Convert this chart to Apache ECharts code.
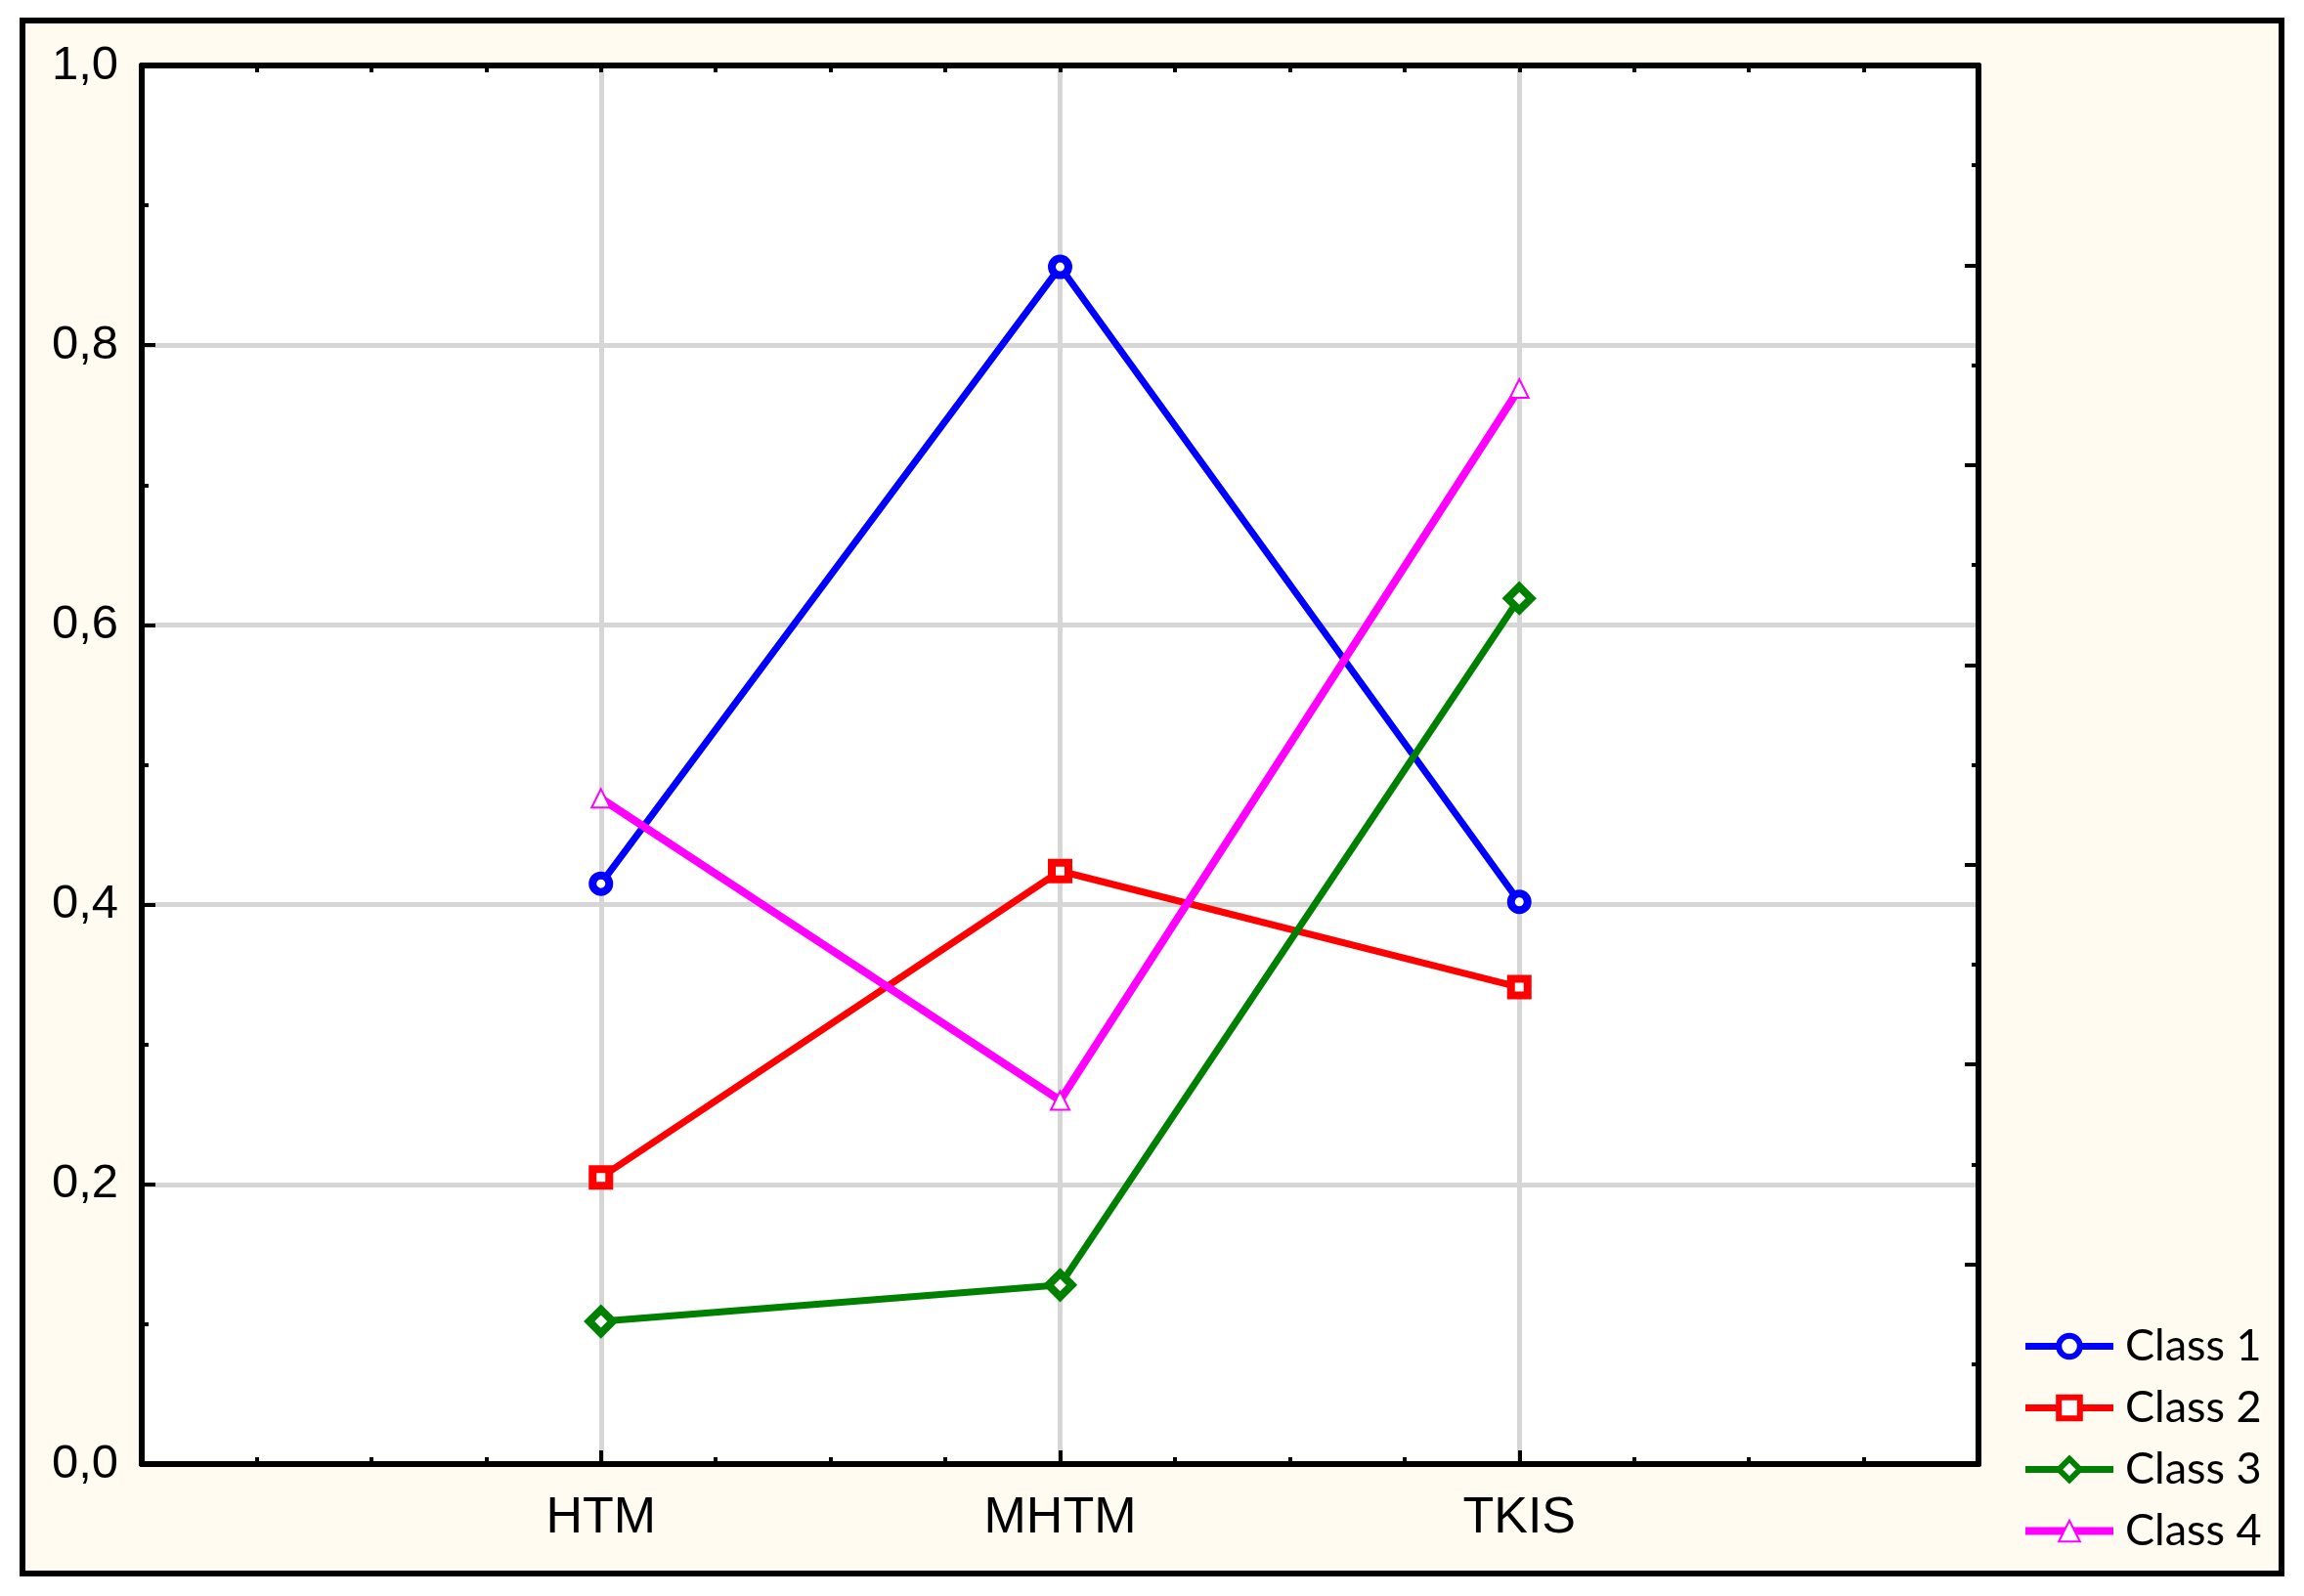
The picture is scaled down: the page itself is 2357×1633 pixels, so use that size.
<!DOCTYPE html>
<html>
<head>
<meta charset="utf-8">
<script src="https://cdn.jsdelivr.net/npm/echarts@6/dist/echarts.min.js"></script>
<style>html,body{margin:0;padding:0;background:#fff;}#c{width:2357px;height:1633px;}</style>
</head>
<body>
<div id="c"></div>
<script>
const categories = ['HTM', 'MHTM', 'TKIS'];
const seriesNames = ['Class 1', 'Class 2', 'Class 3', 'Class 4'];
const class1 = [0.415, 0.856, 0.402];
const class2 = [0.205, 0.424, 0.341];
const class3 = [0.102, 0.128, 0.619];
const class4 = [0.476, 0.260, 0.769];
const yTicks = [0, 0.2, 0.4, 0.6, 0.8, 1.0];

const colors = ['#0000ff', '#ff0000', '#008000', '#ff00ff'];
const symbols = ['circle', 'rect', 'diamond', 'triangle'];
const symbolSizes = [17, 17, 24, 19];
const borderWidths = [8, 8, 8, 2];
const lineWidths = [7, 7, 7, 8];
const values = [class1, class2, class3, class4];

const chart = echarts.init(document.getElementById('c'));
const axisLine = {show: true, onZero: false, lineStyle: {color: '#000', width: 6}};
const labelFont = {fontFamily: 'Liberation Sans, Arial', fontSize: 49, color: '#000'};

const series = values.map((vals, i) => ({
  name: seriesNames[i],
  type: 'line',
  data: vals.map((v, k) => [k + 1, v]),
  xAxisIndex: 0,
  yAxisIndex: 0,
  symbol: symbols[i],
  symbolSize: symbolSizes[i],
  showAllSymbol: true,
  lineStyle: {color: colors[i], width: lineWidths[i]},
  itemStyle: {color: '#ffffff', borderColor: colors[i], borderWidth: borderWidths[i]},
  emphasis: {disabled: true},
  animation: false,
  z: 3 + i
}));

const legendData = seriesNames.map((n, i) => ({
  name: n,
  itemStyle: {borderWidth: i === 3 ? 2 : 6},
  lineStyle: {width: lineWidths[i]}
}));

chart.setOption({
  animation: false,
  backgroundColor: '#fff',
  graphic: [{
    type: 'rect', z: -10, silent: true,
    shape: {x: 23, y: 21, width: 2311, height: 1589},
    style: {fill: '#fffbf0', stroke: '#000', lineWidth: 6}
  }],
  grid: {left: 145, top: 67, right: 333, bottom: 135, show: true, backgroundColor: '#ffffff', borderWidth: 0},
  legend: {
    orient: 'vertical', left: 2063, top: 1350,
    itemWidth: 90, itemHeight: 27, itemGap: 18,
    data: legendData,
    textStyle: {fontFamily: 'Lato', fontSize: 45, color: '#000', padding: [0, 0, 0, 7]}
  },
  xAxis: [{
    type: 'value', position: 'bottom', min: 0, max: 4, interval: 1,
    axisLine: axisLine,
    axisTick: {show: true, inside: true, length: 14, lineStyle: {color: '#000', width: 4}},
    minorTick: {show: true, splitNumber: 4, length: 7, lineStyle: {color: '#000', width: 4}},
    splitLine: {show: true, lineStyle: {color: '#d6d6d6', width: 5}},
    axisLabel: Object.assign({margin: 30, formatter: v => (v >= 1 && v <= categories.length && Number.isInteger(v)) ? categories[v - 1] : ''}, labelFont, {fontSize: 52})
  }, {
    type: 'value', position: 'top', min: 0, max: 4, interval: 1,
    axisLine: axisLine,
    axisTick: {show: true, inside: true, length: 7, lineStyle: {color: '#000', width: 4}},
    minorTick: {show: true, splitNumber: 4, length: 7, lineStyle: {color: '#000', width: 4}},
    splitLine: {show: false},
    axisLabel: {show: false}
  }],
  yAxis: [{
    type: 'value', position: 'left', min: 0, max: 1, interval: 0.2,
    axisLine: axisLine,
    axisTick: {show: true, inside: true, length: 14, lineStyle: {color: '#000', width: 4}},
    minorTick: {show: true, splitNumber: 2, length: 7, lineStyle: {color: '#000', width: 4}},
    splitLine: {show: true, lineStyle: {color: '#d6d6d6', width: 5}},
    axisLabel: Object.assign({margin: 24, formatter: v => v.toFixed(1).replace('.', ',')}, labelFont)
  }, {
    type: 'value', position: 'right', min: 0, max: 7, interval: 1,
    axisLine: axisLine,
    axisTick: {show: true, inside: true, length: 14, lineStyle: {color: '#000', width: 4}},
    minorTick: {show: true, splitNumber: 2, length: 7, lineStyle: {color: '#000', width: 4}},
    splitLine: {show: false},
    axisLabel: {show: false}
  }],
  series: series
});
</script>
</body>
</html>
